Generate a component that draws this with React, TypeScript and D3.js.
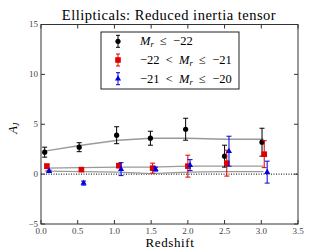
import React, { useEffect, useRef } from "react"
import * as d3 from "d3"

const W = 332
const H = 249

// black: M_r <= -22
const zBlack = [0.05, 0.52, 1.03, 1.49, 1.97, 2.5, 3.01]
const aBlack = [2.2, 2.7, 3.9, 3.6, 4.5, 1.8, 3.2]
const eBlack = [0.5, 0.45, 0.85, 0.7, 1.1, 1.1, 1.4]
// red: -22 < M_r <= -21
const zRed = [0.08, 0.55, 1.06, 1.52, 2.0, 2.53, 3.04]
const aRed = [0.8, 0.45, 0.85, 0.6, 0.8, 1.1, 2.0]
const eRed = [0.2, 0.15, 0.2, 0.5, 1.1, 1.3, 1.35]
// blue: -21 < M_r <= -20
const zBlue = [0.11, 0.58, 1.09, 1.56, 2.03, 2.56, 3.08]
const aBlue = [0.3, -0.9, 0.5, 0.5, 0.9, 2.3, 0.2]
const eBlue = [0.1, 0.2, 0.65, 0.2, 0.55, 1.5, 1.1]

// model curves
const zModel = [0.05, 0.55, 1.05, 1.5, 2.0, 2.5, 3.03]
const mBlack = [2.3, 2.9, 3.4, 3.6, 3.6, 3.5, 3.5]
const mRed = [0.6, 0.65, 0.7, 0.7, 0.8, 0.8, 0.8]
const mBlue = [0.3, 0.25, 0.2, 0.05, 0.2, 0.25, 0.25]

const xTicks = [0, 0.5, 1, 1.5, 2, 2.5, 3, 3.5]
const yTicks = [-5, 0, 5, 10, 15]

const series = [
  { z: zBlack, a: aBlack, e: eBlack, color: "black", shape: "circle", label: "M_r\u2002≤\u2002−22" },
  { z: zRed, a: aRed, e: eRed, color: "#e00000", shape: "square", label: "−22\u2002<\u2002M_r\u2002≤\u2002−21" },
  { z: zBlue, a: aBlue, e: eBlue, color: "#0000e0", shape: "triangle", label: "−21\u2002<\u2002M_r\u2002≤\u2002−20" },
]

const font = "'Liberation Serif', 'DejaVu Serif', serif"

function marker(g, shape, color, x, y) {
  if (shape === "circle") {
    g.append("circle").attr("cx", x).attr("cy", y).attr("r", 2.6).attr("fill", color)
  } else if (shape === "square") {
    g.append("rect").attr("x", x - 2.8).attr("y", y - 2.8).attr("width", 5.6).attr("height", 5.6).attr("fill", color)
  } else {
    g.append("path").attr("d", d3.symbol(d3.symbolTriangle, 16)()).attr("transform", `translate(${x},${y})`).attr("fill", color)
  }
}

function mathLabel(t, label) {
  // label with italic M_r
  const parts = label.split("M_r")
  t.append("tspan").text(parts[0])
  t.append("tspan").attr("font-style", "italic").text("M")
  t.append("tspan").attr("font-style", "italic").attr("font-size", 8.5).attr("dy", 2).text("r")
  t.append("tspan").attr("dy", -2).text(parts[1])
}

function App() {
  const svgRef = useRef()
  useEffect(() => {
    const svg = d3.select(svgRef.current)
    svg.selectAll("*").remove()
    const left = 41, right = 298, top = 24.5, bottom = 224
    const x = d3.scaleLinear().domain([0, 3.5]).range([left, right])
    const y = d3.scaleLinear().domain([-5, 15]).range([bottom, top])

    // dotted zero line
    svg.append("line").attr("x1", left).attr("x2", right).attr("y1", y(0)).attr("y2", y(0))
      .attr("stroke", "black").attr("stroke-width", 1).attr("stroke-dasharray", "1,1.5")

    // model curves
    const ln = d3.line().x((d) => x(d[0])).y((d) => y(d[1]))
    ;[mBlack, mRed, mBlue].forEach((m) => {
      svg.append("path").attr("d", ln(zModel.map((z, i) => [z, m[i]])))
        .attr("fill", "none").attr("stroke", "#999").attr("stroke-width", 1.4)
    })

    // error bars and markers
    series.forEach((s) => {
      const g = svg.append("g")
      s.z.forEach((z, i) => {
        const cx = x(z), y1 = y(s.a[i] - s.e[i]), y2 = y(s.a[i] + s.e[i])
        g.append("line").attr("x1", cx).attr("x2", cx).attr("y1", y1).attr("y2", y2).attr("stroke", s.color).attr("stroke-width", 1)
        ;[y1, y2].forEach((yy) => g.append("line").attr("x1", cx - 2.5).attr("x2", cx + 2.5).attr("y1", yy).attr("y2", yy).attr("stroke", s.color).attr("stroke-width", 1))
        marker(g, s.shape, s.color, cx, y(s.a[i]))
      })
    })

    // frame
    svg.append("rect").attr("x", left).attr("y", top).attr("width", right - left).attr("height", bottom - top)
      .attr("fill", "none").attr("stroke", "#333").attr("stroke-width", 1)

    // ticks inside on all sides
    const ax = svg.append("g").attr("stroke", "#333")
    xTicks.forEach((t) => {
      ax.append("line").attr("x1", x(t)).attr("x2", x(t)).attr("y1", bottom).attr("y2", bottom - 4)
      ax.append("line").attr("x1", x(t)).attr("x2", x(t)).attr("y1", top).attr("y2", top + 4)
    })
    yTicks.forEach((t) => {
      ax.append("line").attr("x1", left).attr("x2", left + 4).attr("y1", y(t)).attr("y2", y(t))
      ax.append("line").attr("x1", right).attr("x2", right - 4).attr("y1", y(t)).attr("y2", y(t))
    })
    const fmt = d3.format(".1f")
    xTicks.forEach((t) => {
      svg.append("text").attr("x", x(t)).attr("y", bottom + 10).attr("text-anchor", "middle")
        .attr("font-family", font).attr("font-size", 9).attr("fill", "#444").text(fmt(t))
    })
    yTicks.forEach((t) => {
      svg.append("text").attr("x", left - 3).attr("y", y(t) + 2.5).attr("text-anchor", "end")
        .attr("font-family", font).attr("font-size", 9).attr("fill", "#444").text(t < 0 ? "−" + Math.abs(t) : String(t))
    })

    // labels
    svg.append("text").attr("x", 170).attr("y", 247).attr("text-anchor", "middle")
      .attr("font-family", font).attr("font-size", 13).attr("letter-spacing", 0.6).text("Redshift")
    const yl = svg.append("text").attr("transform", `translate(17,${y(5) + 4}) rotate(-90)`).attr("text-anchor", "middle")
      .attr("font-family", font).attr("font-size", 12.5)
    yl.append("tspan").attr("font-style", "italic").text("A")
    yl.append("tspan").attr("font-style", "italic").attr("font-size", 8).attr("dy", 2).text("J")
    svg.append("text").attr("x", 169).attr("y", 20).attr("text-anchor", "middle")
      .attr("font-family", font).attr("font-size", 14.5).attr("letter-spacing", 0.5).text("Ellipticals: Reduced inertia tensor")

    // legend
    const lg = svg.append("g")
    lg.append("rect").attr("x", 101).attr("y", 32).attr("width", 138).attr("height", 57)
      .attr("fill", "white").attr("stroke", "#222").attr("stroke-width", 1)
    series.forEach((s, i) => {
      const ly = 41.3 + i * 18.7
      const cx = 118
      lg.append("line").attr("x1", cx).attr("x2", cx).attr("y1", ly - 6).attr("y2", ly + 6).attr("stroke", s.color)
      ;[ly - 6, ly + 6].forEach((yy) => lg.append("line").attr("x1", cx - 2).attr("x2", cx + 2).attr("y1", yy).attr("y2", yy).attr("stroke", s.color))
      marker(lg, s.shape, s.color, cx, ly)
      const t = lg.append("text").attr("x", 140).attr("y", ly + 4).attr("font-family", font).attr("font-size", 12.5)
      mathLabel(t, s.label)
    })
  }, [])

  return <svg ref={svgRef} width={W} height={H} style={{ position: "absolute", left: 0, top: 0 }} />
}

export default App
